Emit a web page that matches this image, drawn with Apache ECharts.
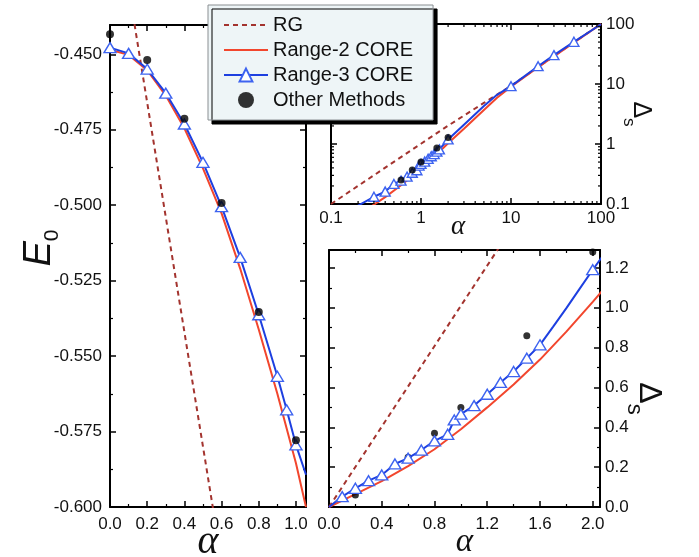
<!DOCTYPE html>
<html>
<head>
<meta charset="utf-8" />
<title>E0 and gap vs alpha</title>
<script src="https://cdn.jsdelivr.net/npm/echarts@6/dist/echarts.min.js"></script>
<style>
  html, body { margin: 0; padding: 0; background: #fff; }
  #chart { width: 699px; height: 557px; }
</style>
</head>
<body>
<div id="chart"></div>
<script>
// ---- left panel: ground state energy E0 vs alpha
var e0RgAlpha = [0, 0.1, 0.2, 0.3, 0.4, 0.5, 0.6];
var e0Rg = [-0.390, -0.428, -0.466, -0.504, -0.542, -0.580, -0.618];
var e0Core2Alpha = [0, 0.1, 0.2, 0.3, 0.4, 0.5, 0.6, 0.7, 0.8, 0.9, 1.0, 1.054];
var e0Core2 = [-0.4485, -0.4502, -0.4553, -0.4637, -0.4745, -0.4878, -0.5027, -0.5210, -0.5412, -0.5625, -0.5855, -0.600];
var e0Core3Alpha = [0, 0.1, 0.2, 0.3, 0.4, 0.5, 0.6, 0.7, 0.8, 0.9, 0.95, 1.0, 1.054];
var e0Core3 = [-0.4478, -0.4497, -0.4549, -0.4629, -0.4731, -0.4858, -0.5005, -0.5173, -0.5363, -0.5567, -0.5678, -0.5794, -0.5893];
var e0Core3Marks = [0, 0.1, 0.2, 0.3, 0.4, 0.5, 0.6, 0.7, 0.8, 0.9, 0.95, 1.0];
var e0OtherAlpha = [0, 0.2, 0.4, 0.6, 0.8, 1.0];
var e0Other = [-0.4434, -0.4519, -0.4714, -0.4993, -0.5354, -0.5779];

// ---- right panels: gap Delta_s vs alpha (same data, log-log inset and linear)
var gapRgAlpha = [0, 0.1, 1, 2, 5, 10, 20, 50, 100];
var gapRg = [0, 0.1, 1.01, 2.02, 4.85, 9.3, 19.2, 49.5, 100];
var gapCore2Alpha = [0, 0.2, 0.4, 0.6, 0.8, 1.0, 1.2, 1.4, 1.6, 1.8, 2.0, 3, 5, 7, 10, 20, 50, 100];
var gapCore2 = [0, 0.065, 0.13, 0.205, 0.29, 0.39, 0.50, 0.615, 0.74, 0.88, 1.03, 1.8, 3.7, 5.9, 9.0, 19, 49, 100];
var gapCore3Alpha = [0, 0.1, 0.2, 0.3, 0.4, 0.5, 0.6, 0.7, 0.8, 0.9, 0.95, 1.0, 1.1, 1.2, 1.3, 1.4, 1.5, 1.6, 1.7, 1.8, 1.9, 2.0, 3, 5, 7, 10, 20, 30, 50, 100];
var gapCore3 = [0, 0.052, 0.094, 0.132, 0.161, 0.216, 0.245, 0.286, 0.332, 0.365, 0.437, 0.466, 0.509, 0.566, 0.625, 0.68, 0.747, 0.814, 0.905, 0.998, 1.095, 1.191, 2.1, 4.3, 6.6, 9.2, 19.8, 30.3, 50.5, 99];
var gapCore3Marks = [0.1, 0.2, 0.3, 0.4, 0.5, 0.6, 0.7, 0.8, 0.9, 0.95, 1.0, 1.1, 1.2, 1.3, 1.4, 1.5, 1.6, 2.0, 10, 20, 30, 50];
var gapOtherAlpha = [0.2, 0.6, 0.8, 1.0, 1.5, 2.0];
var gapOther = [0.06, 0.25, 0.37, 0.50, 0.86, 1.28];

var seriesNames = ['RG', 'Range-2 CORE', 'Range-3 CORE', 'Other Methods'];

var FONT = "'Liberation Sans', Arial, sans-serif";
var SERIF = "'Liberation Serif', 'Times New Roman', serif";
var RG_COLOR = '#a3332e', RED = '#f2462d', BLUE = '#1d3fe0', TRI = '#3d63f0';

function pairs(xs, ys) {
  return xs.map(function (x, i) { return { value: [x, ys[i]] }; });
}
function marked(xs, ys, marks) {
  return xs.map(function (x, i) {
    var item = { value: [x, ys[i]] };
    if (marks.indexOf(x) < 0) item.symbol = 'none';
    return item;
  });
}
// log axes cannot take zeros
function positive(d) {
  return d.filter(function (p) { return p.value[0] > 0 && p.value[1] > 0; });
}

// one axis of a boxed frame; mirror axes only carry ticks
function axis(o) {
  var a = {
    type: o.type || 'value',
    gridIndex: o.grid,
    position: o.pos,
    min: o.min,
    max: o.max,
    nameMoveOverlap: false,
    axisLine: { show: true, onZero: false, lineStyle: { color: '#000', width: 2 } },
    axisTick: { show: true, inside: true, length: 6, lineStyle: { color: '#000', width: 1.5 } },
    minorTick: { show: !!o.minor, splitNumber: o.minor || 2, length: 3, lineStyle: { color: '#000', width: 1.2 } },
    splitLine: { show: false },
    axisLabel: {
      show: !!o.labels,
      margin: o.margin || 8,
      fontFamily: FONT, fontSize: 17, color: '#111',
      showMaxLabel: o.hideMax ? false : null,
      formatter: o.fmt
    }
  };
  if (o.interval) a.interval = o.interval;
  if (o.type === 'log') a.logBase = 10;
  if (o.name) {
    a.name = o.name;
    a.nameLocation = 'middle';
    a.nameGap = o.nameGap;
    a.nameRotate = o.nameRotate || 0;
    a.nameTextStyle = o.nameStyle;
  }
  return a;
}

function fix(n) { return function (v) { return v.toFixed(n); }; }

function alphaStyle(size, pad) {
  return { fontFamily: SERIF, fontStyle: 'italic', fontSize: size, color: '#111', padding: pad || 0 };
}
function deltaStyle(big, small, pad, lift) {
  return {
    padding: pad,
    rich: {
      d: { fontFamily: FONT, fontSize: big, lineHeight: big, verticalAlign: 'top', color: '#111' },
      s: { fontFamily: FONT, fontSize: small, lineHeight: small, verticalAlign: 'top', padding: [lift, 0, 0, 0], color: '#111' }
    }
  };
}

var chart = echarts.init(document.getElementById('chart'), null, { renderer: 'canvas' });

// legend icons: plain lines for RG and Range-2 (hide the default dot)
var noDot = { opacity: 0 };
var legendData = [
  { name: seriesNames[0], itemStyle: noDot },
  { name: seriesNames[1], itemStyle: noDot },
  { name: seriesNames[2] },
  { name: seriesNames[3] }
];

var option = {
  animation: false,
  backgroundColor: '#fff',
  grid: [
    { left: 110, top: 25, width: 196, height: 482, outerBoundsMode: 'none' },
    { left: 331, top: 24, width: 270, height: 180, outerBoundsMode: 'none' },
    { left: 329, top: 250, width: 271, height: 257, outerBoundsMode: 'none' }
  ],
  legend: {
    data: legendData,
    left: 208, top: 5, orient: 'vertical', z: 20,
    itemWidth: 44, itemHeight: 16, itemGap: 5,
    padding: [10, 20, 10, 15],
    backgroundColor: '#eef5f7', borderColor: '#8a8f92', borderWidth: 1,
    shadowColor: '#000', shadowBlur: 0, shadowOffsetX: 4, shadowOffsetY: 4,
    textStyle: { fontFamily: FONT, fontSize: 20, color: '#111', lineHeight: 20 },
    selectedMode: false
  },
  xAxis: [
    axis({ grid: 0, pos: 'bottom', min: 0, max: 1.054, interval: 0.2, minor: 2, labels: true, hideMax: true, fmt: fix(1), margin: 9,
      name: 'α', nameGap: 15, nameStyle: alphaStyle(40) }),
    axis({ grid: 0, pos: 'top', min: 0, max: 1.054, interval: 0.2, minor: 2 }),
    axis({ grid: 1, pos: 'bottom', type: 'log', min: 0.1, max: 100, labels: true, margin: 6,
      name: 'α', nameGap: 9, nameStyle: alphaStyle(27, [0, 16, 0, 0]) }),
    axis({ grid: 1, pos: 'top', type: 'log', min: 0.1, max: 100 }),
    axis({ grid: 2, pos: 'bottom', min: 0, max: 2.055, interval: 0.4, minor: 2, labels: true, hideMax: true, fmt: fix(1), margin: 9,
      name: 'α', nameGap: 19, nameStyle: alphaStyle(33) }),
    axis({ grid: 2, pos: 'top', min: 0, max: 2.055, interval: 0.4, minor: 2 })
  ],
  yAxis: [
    axis({ grid: 0, pos: 'left', min: -0.6, max: -0.4403, interval: 0.025, minor: 2, labels: true, hideMax: true, fmt: fix(3), margin: 8,
      name: '{e|E}{s|0}', nameGap: 52, nameRotate: 90,
      nameStyle: {
        padding: [0, 0, 0, 36],
        rich: {
          e: { fontFamily: FONT, fontStyle: 'italic', fontSize: 38, lineHeight: 38, verticalAlign: 'top', color: '#111' },
          s: { fontFamily: FONT, fontSize: 21, lineHeight: 21, verticalAlign: 'top', padding: [22, 0, 0, 0], color: '#111' }
        }
      } }),
    axis({ grid: 0, pos: 'right', min: -0.6, max: -0.4403, interval: 0.025, minor: 2 }),
    axis({ grid: 1, pos: 'right', type: 'log', min: 0.1, max: 100, labels: true, margin: 5,
      name: '{d|Δ}{s|s}', nameGap: 27, nameRotate: -90, nameStyle: deltaStyle(25, 17, [0, 0, 0, 0], 16) }),
    axis({ grid: 1, pos: 'left', type: 'log', min: 0.1, max: 100 }),
    axis({ grid: 2, pos: 'right', min: 0, max: 1.29, interval: 0.2, minor: 2, labels: true, hideMax: true, fmt: fix(1), margin: 5,
      name: '{d|Δ}{s|s}', nameGap: 33, nameRotate: -90, nameStyle: deltaStyle(32, 22, [0, 0, 0, 40], 20) }),
    axis({ grid: 2, pos: 'left', min: 0, max: 1.29, interval: 0.2, minor: 2 })
  ],
  series: []
};

// three panels share the same four series
var panels = [
  { x: 0, y: 0, rg: pairs(e0RgAlpha, e0Rg), c2: pairs(e0Core2Alpha, e0Core2),
    c3: marked(e0Core3Alpha, e0Core3, e0Core3Marks), other: pairs(e0OtherAlpha, e0Other),
    tri: [12, 10], dot: 8, dotZ: 6 },
  { x: 2, y: 2, rg: positive(pairs(gapRgAlpha, gapRg)), c2: positive(pairs(gapCore2Alpha, gapCore2)),
    c3: positive(marked(gapCore3Alpha, gapCore3, gapCore3Marks)), other: positive(pairs(gapOtherAlpha, gapOther)),
    tri: [10, 9], dot: 7, dotZ: 6 },
  { x: 4, y: 4, rg: pairs(gapRgAlpha, gapRg), c2: pairs(gapCore2Alpha, gapCore2),
    c3: marked(gapCore3Alpha, gapCore3, gapCore3Marks), other: pairs(gapOtherAlpha, gapOther),
    tri: [12, 10], dot: 7, dotZ: 3 }
];

panels.forEach(function (p) {
  option.series.push(
    { name: 'RG', type: 'line', xAxisIndex: p.x, yAxisIndex: p.y, data: p.rg, symbol: 'none', z: 2,
      color: RG_COLOR, lineStyle: { color: RG_COLOR, width: 2, type: [5, 4] } },
    { name: 'Range-2 CORE', type: 'line', xAxisIndex: p.x, yAxisIndex: p.y, data: p.c2, symbol: 'none', z: 3,
      color: RED, lineStyle: { color: RED, width: 2 } },
    { name: 'Range-3 CORE', type: 'line', xAxisIndex: p.x, yAxisIndex: p.y, data: p.c3, z: 4,
      symbol: 'triangle', symbolSize: p.tri, showSymbol: true, showAllSymbol: true,
      color: BLUE, lineStyle: { color: BLUE, width: 2 },
      itemStyle: { color: '#fff', borderColor: TRI, borderWidth: 1.4 } },
    { name: 'Other Methods', type: 'scatter', xAxisIndex: p.x, yAxisIndex: p.y, data: p.other, z: p.dotZ,
      symbol: 'circle', symbolSize: p.dot, itemStyle: { color: '#000' } }
  );
});

chart.setOption(option);

// log axes: minor ticks at 2..9 of each decade, placed through the axis scales
var logMinor = [];
[0.1, 1, 10].forEach(function (dec) {
  for (var k = 2; k <= 9; k++) logMinor.push(+(dec * k).toPrecision(3));
});
function tickLine(x1, y1, x2, y2) {
  return { type: 'line', z: 5, silent: true, shape: { x1: x1, y1: y1, x2: x2, y2: y2 },
    style: { stroke: '#000', lineWidth: 1.2 } };
}
var xl = chart.convertToPixel({ xAxisIndex: 2 }, 0.1);
var xr = chart.convertToPixel({ xAxisIndex: 2 }, 100);
var yb = chart.convertToPixel({ yAxisIndex: 2 }, 0.1);
var yt = chart.convertToPixel({ yAxisIndex: 2 }, 100);
var minorTicks = [];
logMinor.forEach(function (v) {
  var px = chart.convertToPixel({ xAxisIndex: 2 }, v);
  var py = chart.convertToPixel({ yAxisIndex: 2 }, v);
  minorTicks.push(tickLine(px, yb, px, yb - 3), tickLine(px, yt, px, yt + 3),
    tickLine(xl, py, xl + 3, py), tickLine(xr, py, xr - 3, py));
});
chart.setOption({ graphic: minorTicks });
</script>
</body>
</html>
